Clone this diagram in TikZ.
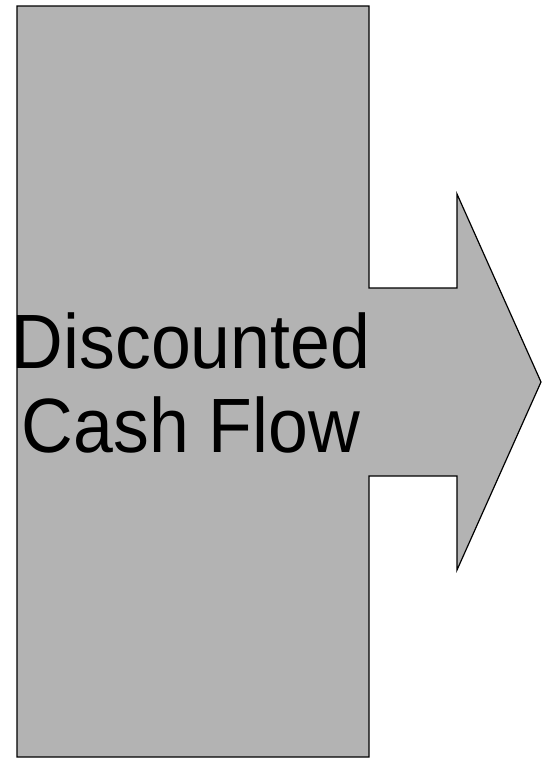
\documentclass[tikz,border=0pt]{standalone}
\usepackage{fontspec}
\newfontfamily\dcffont[FakeStretch=0.93]{Liberation Sans}
\definecolor{dcfgray}{RGB}{179,179,179}
\begin{document}
\begin{tikzpicture}[x=1pt, y=-1pt,
  block/.style={draw=black, fill=dcfgray, line width=1.2pt, line join=miter},
  title/.style={font=\dcffont\fontsize{77}{84}\selectfont, align=center,
                inner sep=0pt, anchor=base}
]
  \useasboundingbox (0,0) rectangle (542,758);
  % Bloc et flèche
  \draw[block] (17,6) -- (369,6) -- (369,288) -- (457,288) -- (457,194)
        -- (541,382) -- (457,570) -- (457,476) -- (369,476) -- (369,757)
        -- (17,757) -- cycle;
  % Texte
  \node[title] (dcf) at (191,452) {Discounted\\Cash Flow};
\end{tikzpicture}
\end{document}
